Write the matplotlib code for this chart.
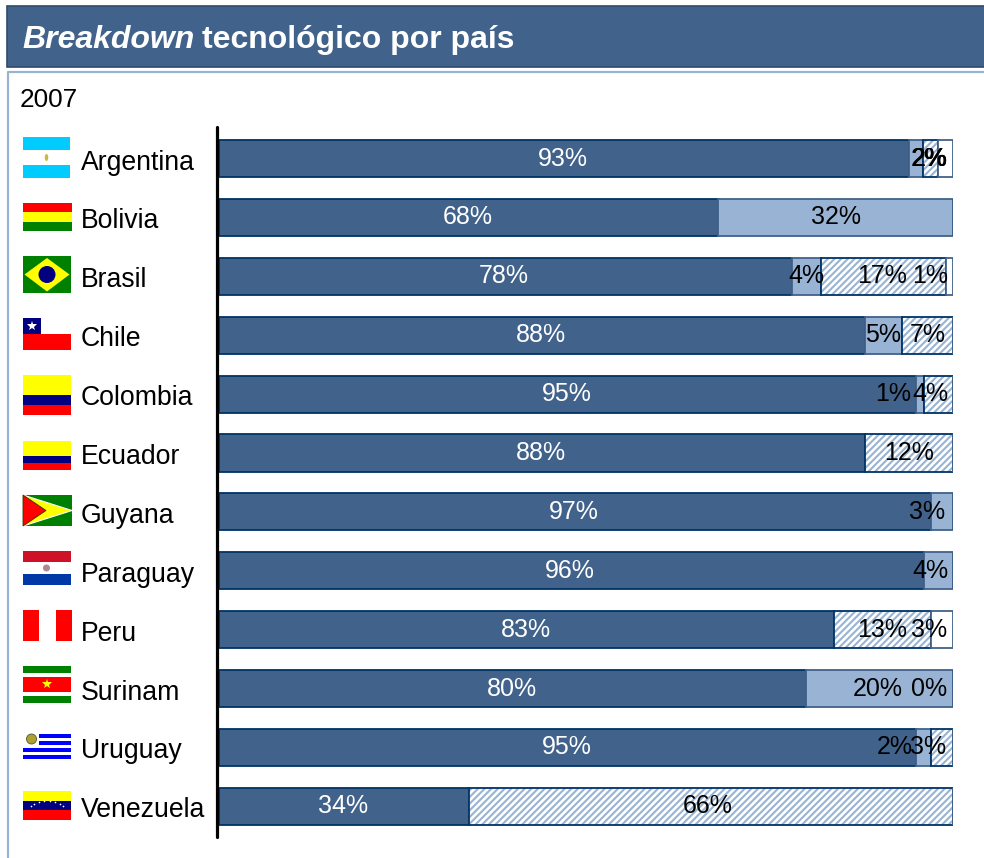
import numpy as np
from matplotlib import pyplot as plt
from matplotlib.patches import Rectangle, Polygon, Ellipse, Circle

plt.rcParams['font.family'] = ['Liberation Sans', 'DejaVu Sans']
plt.rcParams['hatch.linewidth'] = 1.5

nan = np.nan
countries = ['Argentina', 'Bolivia', 'Brasil', 'Chile', 'Colombia', 'Ecuador',
             'Guyana', 'Paraguay', 'Peru', 'Surinam', 'Uruguay', 'Venezuela']
# nan = segment without label in the source chart
dark_vals = [93, 68, 78, 88, 95, 88, 97, 96, 83, 80, 95, 34]
mid_vals = [2, 32, 4, 5, 1, nan, 3, 4, nan, 20, 2, nan]
hatch_vals = [2, nan, 17, 7, 4, 12, nan, nan, 13, nan, 3, 66]
white_vals = [2, nan, 1, nan, nan, nan, nan, nan, 3, 0, nan, nan]

DARK = '#41628A'
MID = '#98B3D3'
NAVY = '#003366'

# labels that sit away from their segment centre: (row, segment) -> x on the % axis
label_moved = {(0, 1): 96.7, (0, 2): 96.8, (0, 3): 96.9,
               (2, 2): 90.3, (2, 3): 96.9,
               (3, 2): 96.5,
               (4, 1): 91.8, (4, 2): 96.9,
               (6, 1): 96.5,
               (7, 1): 96.9,
               (8, 2): 90.3, (8, 3): 96.7,
               (9, 1): 89.8, (9, 3): 96.7,
               (10, 1): 92.1, (10, 2): 96.6,
               (11, 2): 66.6}


def stripes(pa, x0, x1, y0, y1, cols, fracs=None):
    if fracs is None:
        fracs = [1] * len(cols)
    fr = np.cumsum([0] + list(fracs)) / sum(fracs)
    for i, c in enumerate(cols):
        pa.add_patch(Rectangle((x0, y0 + fr[i] * (y1 - y0)), x1 - x0,
                               (fr[i + 1] - fr[i]) * (y1 - y0), fc=c, lw=0))


def draw_flags(pa):
    # Argentina
    stripes(pa, 23, 70, 137, 178, ['#00CCFF', 'white', '#00CCFF'], [1, 1.05, 1])
    pa.add_patch(Ellipse((46.5, 157.5), 3.5, 7, fc='#C8B84A', lw=0))
    # Bolivia
    stripes(pa, 23, 72, 203, 231, ['#FF0000', '#FFFF00', '#008000'])
    # Brasil
    stripes(pa, 23, 71, 256, 293, ['#008000'])
    pa.add_patch(Polygon([(24.5, 274.5), (47, 258), (69.5, 274.5), (47, 291.5)], fc='#FFFF00', lw=0))
    pa.add_patch(Circle((47, 274.5), 8.5, fc='#000080', lw=0))
    # Chile
    stripes(pa, 23, 71, 318, 350, ['white', '#FF0000'])
    pa.add_patch(Rectangle((23, 318), 18, 16, fc='#000080', lw=0))
    pa.plot([32], [326], marker='*', ms=7, color='white', mew=0)
    # Colombia
    stripes(pa, 23, 71, 375, 415, ['#FFFF00', '#000080', '#FF0000'], [2, 1, 1])
    # Ecuador
    stripes(pa, 23, 71, 441, 470, ['#FFFF00', '#000080', '#FF0000'], [2, 1, 1])
    # Guyana
    stripes(pa, 23, 72, 495, 526, ['#008000'])
    pa.add_patch(Polygon([(23, 495), (72, 510.5), (23, 526)], fc='#FFFF00', ec='white', lw=0.8))
    pa.add_patch(Polygon([(23, 495), (46, 510.5), (23, 526)], fc='#FF0000', ec='#333300', lw=0.6))
    # Paraguay
    stripes(pa, 23, 71, 551, 585, ['#CE1126', 'white', '#0038A8'])
    pa.add_patch(Circle((46.5, 568), 3.5, fc='#B08A90', lw=0))
    # Peru, stripes run sideways
    pa.add_patch(Rectangle((23, 610), 49, 31, fc='#FF0000', lw=0))
    pa.add_patch(Rectangle((39, 610), 17, 31, fc='white', lw=0))
    # Surinam
    stripes(pa, 23, 71, 666, 703, ['#008000', 'white', '#FF0000', 'white', '#008000'], [2, 1, 4, 1, 2])
    pa.plot([46.5], [684], marker='*', ms=7, color='#FFFF00', mew=0)
    # Uruguay
    stripes(pa, 23, 71, 731, 762, ['white', '#0000FF'] * 4 + ['white'])
    pa.add_patch(Rectangle((23, 731), 16, 17, fc='white', lw=0))
    pa.add_patch(Circle((31.5, 739), 5, fc='#B0A030', ec='#555533', lw=0.6))
    # Venezuela
    stripes(pa, 23, 71, 791, 820, ['#FFFF00', '#000080', '#FF0000'])
    t = np.linspace(0.15, 0.85, 8) * np.pi
    pa.plot(47 + 18 * np.cos(t), 810 - 9 * np.sin(t), ls='', marker='o', ms=1.2, color='white', mew=0)


def main():
    fig = plt.figure(figsize=(9.84, 8.58), dpi=100)

    # pixel layer for the banner, frame and flags
    pa = fig.add_axes([0, 0, 1, 1])
    pa.set_xlim(0, 984)
    pa.set_ylim(858, 0)
    pa.axis('off')

    pa.add_patch(Rectangle((7, 6), 980, 61, fc=DARK, ec='#2F4A6B', lw=1.2))
    pa.plot([8, 8, 984], [858, 72, 72], color=MID, lw=1.6)
    pa.text(22, 40, 'Breakdown', color='white', fontsize=23, style='italic',
            weight='bold', va='center')
    pa.text(202, 40, 'tecnológico por país', color='white', fontsize=23,
            weight='bold', va='center')
    pa.text(20, 100, '2007', color='black', fontsize=18.8, va='center')
    draw_flags(pa)

    ax = fig.add_axes([219 / 984, 1 - 837 / 858, 734 / 984, 710 / 858])
    ax.set_xlim(0, 100)
    ax.set_ylim(11.52, -0.535)
    ax.axis('off')

    table = np.array([dark_vals, mid_vals, hatch_vals, white_vals], dtype=float)
    filled = np.nan_to_num(table)
    shares = filled / filled.sum(axis=0) * 100
    ypos = np.arange(len(countries))
    h = 0.63

    left = np.zeros(len(countries))
    styles = [(DARK, NAVY, None), (MID, DARK, None), ('white', NAVY, '/////'), ('white', DARK, None)]
    for s, (fc, ec, hatch) in enumerate(styles):
        w = shares[s]
        if hatch:
            ax.barh(ypos, w, h, left=left, color='white', edgecolor=MID, hatch=hatch, lw=0)
            ax.barh(ypos, w, h, left=left, fill=False, edgecolor=ec, lw=1.3)
        else:
            ax.barh(ypos, w, h, left=left, color=fc, edgecolor=ec, lw=1.3)
        for r in ypos:
            if np.isnan(table[s, r]):
                continue
            x = label_moved.get((r, s), left[r] + w[r] / 2)
            col = 'white' if s == 0 else 'black'
            if s == 0:
                x = x - 0.15
            ax.text(x, r, '%d%%' % table[s, r], color=col, fontsize=18,
                    ha='center', va='center')
        left = left + w

    # country names and the vertical axis line, on the same rows
    for r, name in enumerate(countries):
        ax.annotate(name, (0, r), xytext=(-138, -4), textcoords='offset pixels',
                    fontsize=19.2, ha='left', va='center', annotation_clip=False)
    ax.plot([-0.27, -0.27], [-0.535, 11.52], color='black', lw=2.3,
            solid_capstyle='round', clip_on=False)

    fig.savefig('out.png', dpi=100)


if __name__ == '__main__':
    main()
